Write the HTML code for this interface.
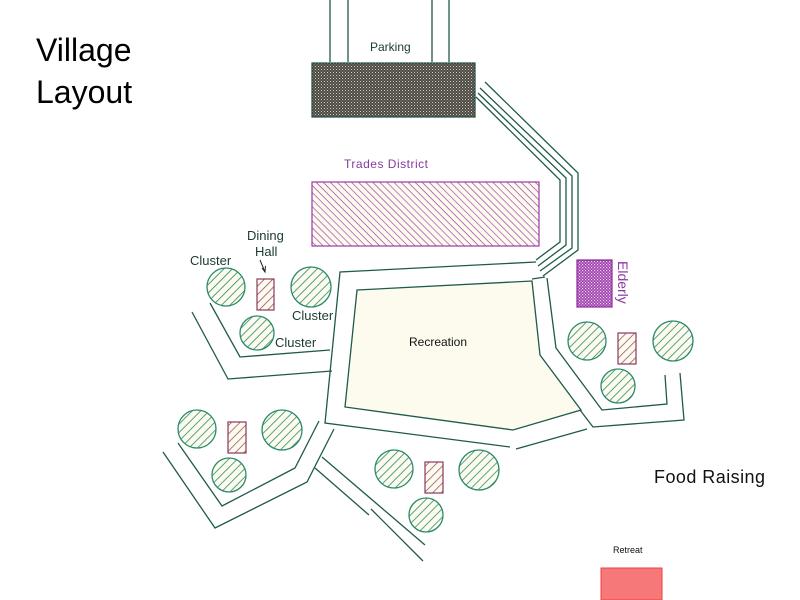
<!DOCTYPE html>
<html><head><meta charset="utf-8"><style>
html,body{margin:0;padding:0;background:#fff;}
svg{display:block;}
text{font-family:"Liberation Sans",sans-serif;}
</style></head><body>
<svg width="800" height="600" viewBox="0 0 800 600" xmlns="http://www.w3.org/2000/svg">
<defs>
<pattern id="gh" width="6" height="6" patternUnits="userSpaceOnUse" patternTransform="rotate(-45)">
<rect width="6" height="6" fill="#fdfbee"/><line x1="0" y1="0" x2="6" y2="0" stroke="#2a8a6a" stroke-width="1.6"/></pattern>
<pattern id="mh" width="6" height="6" patternUnits="userSpaceOnUse" patternTransform="rotate(-45)">
<rect width="6" height="6" fill="#fdfbee"/><line x1="0" y1="0" x2="6" y2="0" stroke="#8a3a5a" stroke-width="1.4"/></pattern>
<pattern id="ph" width="5" height="5" patternUnits="userSpaceOnUse" patternTransform="rotate(45)">
<rect width="5" height="5" fill="#fdfbee"/><line x1="0" y1="0" x2="5" y2="0" stroke="#9a3aa8" stroke-width="1.3"/></pattern>
<pattern id="dk" width="3" height="3" patternUnits="userSpaceOnUse">
<rect width="3" height="3" fill="#4a4a42"/><rect width="1" height="1" fill="#d8d0c8"/><rect x="1.5" y="1.5" width="1" height="1" fill="#a8a098"/></pattern>
<pattern id="pk" width="3" height="3" patternUnits="userSpaceOnUse">
<rect width="3" height="3" fill="#a040b0"/><rect width="1.2" height="1.2" fill="#f0d8f0"/><rect x="1.5" y="1.5" width="1.2" height="1.2" fill="#e0b8e0"/></pattern>
</defs>
<g fill="none" stroke="#1f5a4a" stroke-width="1.3">
<line x1="330" y1="0" x2="330" y2="62"/><line x1="348" y1="0" x2="348" y2="62"/>
<line x1="432" y1="0" x2="432" y2="62"/><line x1="449" y1="0" x2="449" y2="62"/>
<polyline points="485,82 578,173 578,250 543,276"/>
<polyline points="480,88 572,176 572,248 540,271"/>
<polyline points="478,93 566,178 566,245 538,266"/>
<polyline points="476,97 560,180 560,242 536,260"/>
<polygon points="357,290 532,281 540,355 581,410 513,430 345,407" fill="#fdfbee"/>
<polyline points="536,262 340,272 325,423 510,447"/>
<polyline points="532,279 545,277"/>
<polyline points="516,449 587,429"/>
<polyline points="547,278 556,348 602,410 667,404 665,375"/>
<polyline points="580,410 593,427 684,420 680,373"/>
<polyline points="210,303 240,357 330,350"/>
<polyline points="192,312 228,379 332,371"/>
<polyline points="178,443 222,506 295,468 319,421"/>
<polyline points="163,452 215,528 307,482 334,429"/>
<line x1="322" y1="457" x2="425" y2="545"/>
<line x1="315" y1="468" x2="369" y2="515"/>
<line x1="371" y1="509" x2="423" y2="561"/>
</g>
<line x1="260" y1="260" x2="265" y2="272" stroke="#222" stroke-width="1"/>
<polyline points="262,268 265,272 265.5,266" fill="none" stroke="#222" stroke-width="1"/>
<rect x="312" y="63" width="163" height="54" fill="url(#dk)" stroke="#1f4a40" stroke-width="1.2"/>
<rect x="312" y="182" width="227" height="64" fill="url(#ph)" stroke="#9a3aa8" stroke-width="1.2"/>
<rect x="577" y="260" width="35" height="47" fill="url(#pk)" stroke="#8a2a98" stroke-width="1.2"/>
<rect x="601" y="568" width="61" height="32" fill="#f77878" stroke="#f04040" stroke-width="1"/>
<g fill="url(#gh)" stroke="#2a8a6a" stroke-width="1.3">
<circle cx="226" cy="287" r="19"/><circle cx="311" cy="287" r="20"/><circle cx="257" cy="333" r="17"/>
<circle cx="197" cy="429" r="19"/><circle cx="282" cy="430" r="20"/><circle cx="229" cy="475" r="17"/>
<circle cx="394" cy="469" r="19"/><circle cx="479" cy="470" r="20"/><circle cx="426" cy="515" r="17"/>
<circle cx="587" cy="341" r="19"/><circle cx="673" cy="341" r="20"/><circle cx="618" cy="386" r="17"/>
</g>
<g fill="url(#mh)" stroke="#8a3a5a" stroke-width="1.2">
<rect x="257" y="279" width="17" height="31"/><rect x="228" y="422" width="18" height="31"/>
<rect x="425" y="462" width="18" height="31"/><rect x="618" y="333" width="18" height="31"/>
</g>
<text x="36" y="61" font-size="32" fill="#000">Village</text>
<text x="36" y="103" font-size="32" fill="#000">Layout</text>
<text x="370" y="51" font-size="12" fill="#1a3a30">Parking</text>
<text x="344" y="168" font-size="12" fill="#8a3aa0" textLength="84">Trades  District</text>
<text x="190" y="265" font-size="13" fill="#1a3a30">Cluster</text>
<text x="247" y="240" font-size="13" fill="#1a3a30">Dining</text>
<text x="255" y="256" font-size="13" fill="#1a3a30">Hall</text>
<text x="292" y="320" font-size="13" fill="#1a3a30">Cluster</text>
<text x="275" y="347" font-size="13" fill="#1a3a30">Cluster</text>
<text x="409" y="346" font-size="12" fill="#111">Recreation</text>
<text x="654" y="483" font-size="18" fill="#111" textLength="111">Food  Raising</text>
<text x="613" y="553" font-size="9" fill="#111">Retreat</text>
<text transform="translate(618,261) rotate(90)" font-size="14" fill="#8a3aa0">Elderly</text>
</svg>
</body></html>
